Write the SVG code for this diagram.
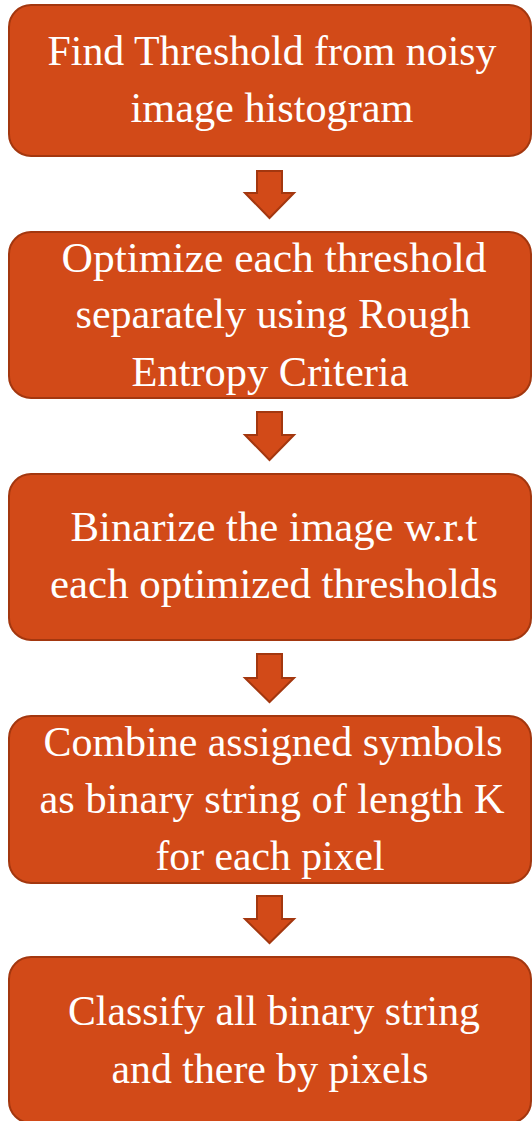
<svg xmlns="http://www.w3.org/2000/svg" width="532" height="1121" viewBox="0 0 532 1121">
<style>
.box{fill:#D24A18;stroke:#A3370F;stroke-width:2}
.arr{fill:#D24A18;stroke:#A3370F;stroke-width:2;stroke-linejoin:miter}
.t{font-family:"Liberation Serif","Times New Roman",serif;font-size:42px;fill:#FFFFFF;text-anchor:middle}
</style>
<rect width="532" height="1121" fill="#FFFFFF"/>
<g id="connectors">
<path class="arr" d="M257,171 H282 V193 H294 L269.5,218 L245,193 H257 Z"/>
<path class="arr" d="M257,412 H282 V435 H294 L269.5,460 L245,435 H257 Z"/>
<path class="arr" d="M257,654 H282 V678 H294 L269.5,702 L245,678 H257 Z"/>
<path class="arr" d="M257,896 H282 V919 H294 L269.5,943 L245,919 H257 Z"/>
</g>
<g id="node1">
<rect class="box" x="9" y="5" width="522" height="151" rx="22"/>
<text class="t" x="272" y="65" textLength="449" lengthAdjust="spacingAndGlyphs">Find Threshold from noisy</text>
<text class="t" x="272" y="122" textLength="283" lengthAdjust="spacingAndGlyphs">image histogram</text>
</g>
<g id="node2">
<rect class="box" x="9" y="232" width="522" height="166" rx="22"/>
<text class="t" x="274" y="272" textLength="425" lengthAdjust="spacingAndGlyphs">Optimize each threshold</text>
<text class="t" x="273" y="328" textLength="395" lengthAdjust="spacingAndGlyphs">separately using Rough</text>
<text class="t" x="270" y="386" textLength="277" lengthAdjust="spacingAndGlyphs">Entropy Criteria</text>
</g>
<g id="node3">
<rect class="box" x="9" y="474" width="522" height="166" rx="22"/>
<text class="t" x="274" y="541" textLength="407" lengthAdjust="spacingAndGlyphs">Binarize the image w.r.t</text>
<text class="t" x="274" y="598" textLength="448" lengthAdjust="spacingAndGlyphs">each optimized thresholds</text>
</g>
<g id="node4">
<rect class="box" x="9" y="716" width="522" height="167" rx="22"/>
<text class="t" x="273" y="756" textLength="459" lengthAdjust="spacingAndGlyphs">Combine assigned symbols</text>
<text class="t" x="272" y="813" textLength="465" lengthAdjust="spacingAndGlyphs">as binary string of length K</text>
<text class="t" x="270" y="870" textLength="229" lengthAdjust="spacingAndGlyphs">for each pixel</text>
</g>
<g id="node5">
<rect class="box" x="9" y="957" width="522" height="166" rx="22"/>
<text class="t" x="274" y="1025" textLength="412" lengthAdjust="spacingAndGlyphs">Classify all binary string</text>
<text class="t" x="270" y="1083" textLength="317" lengthAdjust="spacingAndGlyphs">and there by pixels</text>
</g>
</svg>
